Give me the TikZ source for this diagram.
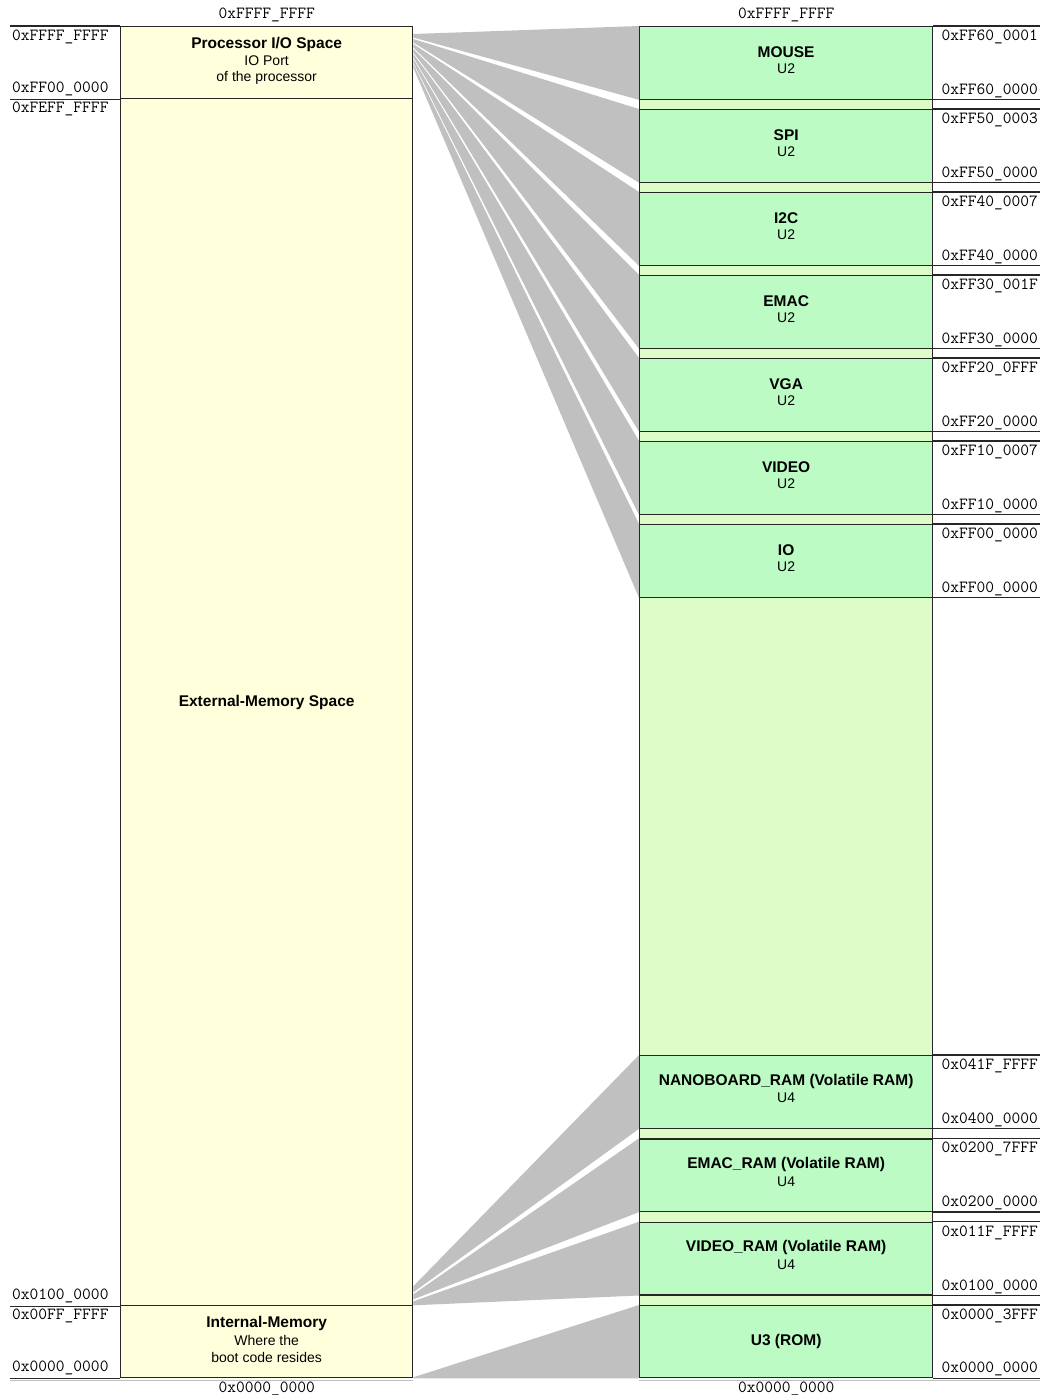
\documentclass[tikz,border=0pt]{standalone}
\usepackage{fontspec}
\setmainfont{Liberation Sans}
\usepackage{tikz}
\usetikzlibrary{calc,backgrounds}
\definecolor{mapCream}{HTML}{FFFFDC}
\definecolor{mapGreen}{HTML}{BCFBC4}
\definecolor{mapPale}{HTML}{DEFCC8}
\definecolor{mapFan}{HTML}{C0C0C0}

\tikzset{
  addr/.style={font=\ttfamily\fontsize{17}{17}\selectfont,inner sep=0pt},
  ttl/.style={font=\bfseries\fontsize{15.5}{17}\selectfont,inner sep=0pt},
  sub/.style={font=\fontsize{14}{16}\selectfont,inner sep=0pt},
  rule/.style={line width=1.3pt,black!85},
  blkbox/.style={draw=black!85,line width=1.3pt,fill=#1,anchor=north west,inner sep=0pt,minimum width=293pt},
  fanfill/.style={fill=mapFan}
}

\begin{document}
\begin{tikzpicture}[x=1pt,y=-1pt]
  \useasboundingbox (0,0) rectangle (1045,1395);
  \coordinate (lm) at (10,0);
  \coordinate (rm) at (1040,0);

  % processor side
  \node[blkbox=mapCream,minimum width=292pt,minimum height=72pt] (pio) at (120,26) {};
  \node[blkbox=mapCream,minimum width=292pt,minimum height=1207pt] (ext) at (120,98) {};
  \node[blkbox=mapCream,minimum width=292pt,minimum height=72pt] (imem) at (120,1305) {};
  \node[ttl] (piot) at ($(pio.north)+(0,18)$) {Processor I/O Space};
  \node[sub] (pios) at ($(pio.north)+(0,35)$) {IO Port};
  \node[sub] (piou) at ($(pio.north)+(0,52)$) {of the processor};
  \node[ttl] (extt) at (ext.center) {External-Memory Space};
  \node[ttl] (imemt) at ($(imem.north)+(0,18)$) {Internal-Memory};
  \node[sub] (imems) at ($(imem.north)+(0,35)$) {Where the};
  \node[sub] (imemu) at ($(imem.north)+(0,52)$) {boot code resides};
  \node[addr] (ptop) at ($(pio.north)+(0,-11)$) {0xFFFF\_FFFF};
  \node[addr] (pbot) at ($(imem.south)+(0,11)$) {0x0000\_0000};

  % left address column
  \draw[rule] (pio.north west) -- (pio.north west -| lm);
  \draw[rule] (pio.south west) -- (pio.south west -| lm);
  \draw[rule] (ext.south west) -- (ext.south west -| lm);
  \draw[rule] (imem.south west) -- (imem.south west -| lm);
  \draw[mapFan,line width=1pt] ([yshift=-2pt]imem.south east) -- ([yshift=-2pt]imem.south east -| lm);
  \node[addr,anchor=west] (la1) at (12,37) {0xFFFF\_FFFF};
  \node[addr,anchor=west] (la2) at (12,89) {0xFF00\_0000};
  \node[addr,anchor=west] (la3) at (12,109) {0xFEFF\_FFFF};
  \node[addr,anchor=west] (la4) at (12,1296) {0x0100\_0000};
  \node[addr,anchor=west] (la5) at (12,1316) {0x00FF\_FFFF};
  \node[addr,anchor=west] (la6) at (12,1368) {0x0000\_0000};

  % memory side
  \node[blkbox=mapPale,minimum height=1351pt] (col) at (639,26) {};
  \node[addr] (mtop) at ($(col.north)+(0,-11)$) {0xFFFF\_FFFF};
  \node[addr] (mbot) at ($(col.south)+(0,11)$) {0x0000\_0000};
  \def\periph#1#2#3#4#5#6{%
    \node[blkbox=mapGreen,minimum height=72.5pt] (#1) at (639,#2) {};
    \node[ttl] (#1t) at ($(#1.north)+(0,26)$) {#3};
    \node[sub] (#1s) at ($(#1.north)+(0,43)$) {#4};
    \node[addr,anchor=west] (#1h) at ($(#1.north east)+(8,11)$) {#5};
    \node[addr,anchor=west] (#1l) at ($(#1.south east)+(8,-9)$) {#6};
    \draw[rule] (#1.north east) -- (#1.north east -| rm);
    \draw[rule] (#1.south east) -- (#1.south east -| rm);
  }
  \periph{mouse}{26}{MOUSE}{U2}{0xFF60\_0001}{0xFF60\_0000}
  \periph{spi}{109}{SPI}{U2}{0xFF50\_0003}{0xFF50\_0000}
  \periph{i2c}{192}{I2C}{U2}{0xFF40\_0007}{0xFF40\_0000}
  \periph{emac}{275}{EMAC}{U2}{0xFF30\_001F}{0xFF30\_0000}
  \periph{vga}{358}{VGA}{U2}{0xFF20\_0FFF}{0xFF20\_0000}
  \periph{video}{441}{VIDEO}{U2}{0xFF10\_0007}{0xFF10\_0000}
  \periph{io}{524}{IO}{U2}{0xFF00\_0000}{0xFF00\_0000}
  \periph{nram}{1055}{NANOBOARD\_RAM (Volatile RAM)}{U4}{0x041F\_FFFF}{0x0400\_0000}
  \periph{eram}{1138.3}{EMAC\_RAM (Volatile RAM)}{U4}{0x0200\_7FFF}{0x0200\_0000}
  \periph{vram}{1221.7}{VIDEO\_RAM (Volatile RAM)}{U4}{0x011F\_FFFF}{0x0100\_0000}
  \node[blkbox=mapGreen,minimum height=72pt] (rom) at (639,1305) {};
  \node[ttl] (romt) at (rom.center) {U3 (ROM)};
  \node[addr,anchor=west] (romh) at ($(rom.north east)+(8,11)$) {0x0000\_3FFF};
  \node[addr,anchor=west] (roml) at ($(rom.south east)+(8,-9)$) {0x0000\_0000};
  \draw[rule] (rom.north east) -- (rom.north east -| rm);
  \draw[rule] (rom.south east) -- (rom.south east -| rm);
  \draw[mapFan,line width=1pt] ([yshift=-2pt]rom.south west) -- ([yshift=-2pt]rom.south west -| rm);

  % mapping fans
  \def\fan#1#2#3#4{%
    \fill[fanfill] ($(#2)+(0,#3)$) -- (#1.north west) -- (#1.south west) -- ($(#2)+(0,#4)$) -- cycle;
  }
  \begin{pgfonlayer}{background}
    \foreach \n [count=\i from 0] in {mouse,spi,i2c,emac,vga,video,io}
      \fan{\n}{pio.north east}{8+5*\i}{11.5+5*\i};
    \fan{nram}{ext.south east}{-20}{-14}
    \fan{eram}{ext.south east}{-12}{-7}
    \fan{vram}{ext.south east}{-5}{-1}
    \fan{rom}{imem.south east}{-1}{0}
  \end{pgfonlayer}
\end{tikzpicture}
\end{document}
